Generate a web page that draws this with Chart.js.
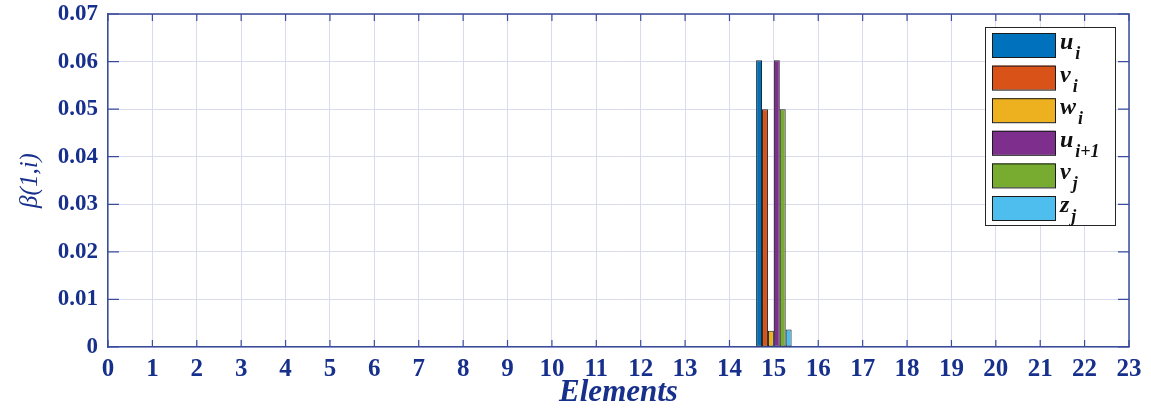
<!DOCTYPE html>
<html>
<head>
<meta charset="utf-8">
<script src="https://cdn.jsdelivr.net/npm/chart.js@4.4.0/dist/chart.umd.min.js"></script>
<style>
  html, body { margin: 0; padding: 0; background: #fff; }
  #wrap { width: 1151px; height: 412px; position: relative; }
</style>
</head>
<body>
<div id="wrap"><canvas id="chart"></canvas></div>
<script>
// --- Data (elements 1..22, only element 15 is non-zero) ---
const elements = [1, 2, 3, 4, 5, 6, 7, 8, 9, 10, 11, 12, 13, 14, 15, 16, 17, 18, 19, 20, 21, 22];
const uI   = [0, 0, 0, 0, 0, 0, 0, 0, 0, 0, 0, 0, 0, 0, 0.0603, 0, 0, 0, 0, 0, 0, 0];
const vI   = [0, 0, 0, 0, 0, 0, 0, 0, 0, 0, 0, 0, 0, 0, 0.0500, 0, 0, 0, 0, 0, 0, 0];
const wI   = [0, 0, 0, 0, 0, 0, 0, 0, 0, 0, 0, 0, 0, 0, 0.0034, 0, 0, 0, 0, 0, 0, 0];
const uI1  = [0, 0, 0, 0, 0, 0, 0, 0, 0, 0, 0, 0, 0, 0, 0.0603, 0, 0, 0, 0, 0, 0, 0];
const vJ   = [0, 0, 0, 0, 0, 0, 0, 0, 0, 0, 0, 0, 0, 0, 0.0500, 0, 0, 0, 0, 0, 0, 0];
const zJ   = [0, 0, 0, 0, 0, 0, 0, 0, 0, 0, 0, 0, 0, 0, 0.0037, 0, 0, 0, 0, 0, 0, 0];

const seriesNames = [['u', 'i'], ['v', 'i'], ['w', 'i'], ['u', 'i+1'], ['v', 'j'], ['z', 'j']];
const seriesData = [uI, vI, wI, uI1, vJ, zJ];
const seriesColors = ['#0072BD', '#D95319', '#EDB120', '#7E2F8E', '#77AC30', '#4DBEEE'];

const X_MIN = 0, X_MAX = 23;
const Y_MIN = 0, Y_MAX = 0.07;

// --- Style ---
const AXIS_BLUE = '#17308c';
const LINE_BLUE = '#3a4c9e';
const GRID_COLOR = '#dadcee';
const SERIF = '"Liberation Serif", "Times New Roman", serif';

// --- Plugin: box around plot + MATLAB-style inward ticks ---
const boxPlugin = {
  id: 'boxPlugin',
  afterDatasetsDraw(chart) {
    const { ctx, chartArea: a, scales } = chart;
    ctx.save();
    ctx.strokeStyle = LINE_BLUE;
    ctx.lineWidth = 1.5;
    ctx.beginPath();
    ctx.moveTo(a.left, a.top); ctx.lineTo(a.right, a.top); ctx.lineTo(a.right, a.bottom);
    ctx.stroke();
    ctx.lineWidth = 1.2;
    ctx.beginPath();
    for (let v = X_MIN; v <= X_MAX; v++) {
      const px = scales.x.getPixelForValue(v);
      ctx.moveTo(px, a.bottom); ctx.lineTo(px, a.bottom - 7);
      ctx.moveTo(px, a.top); ctx.lineTo(px, a.top + 7);
    }
    for (let k = 0; k <= 7; k++) {
      const py = scales.y.getPixelForValue(k * 0.01);
      ctx.moveTo(a.left, py); ctx.lineTo(a.left + 11, py);
      ctx.moveTo(a.right, py); ctx.lineTo(a.right - 11, py);
    }
    ctx.stroke();
    ctx.restore();
  }
};

// --- Plugin: legend with subscripts ---
const legendPlugin = {
  id: 'subLegend',
  afterDraw(chart) {
    const ctx = chart.ctx;
    const bx = 985, by = 27, bw = 130, bh = 198;
    ctx.save();
    ctx.fillStyle = '#fff';
    ctx.fillRect(bx, by, bw, bh);
    ctx.strokeStyle = '#262626';
    ctx.lineWidth = 1;
    ctx.strokeRect(bx + 0.5, by + 0.5, bw, bh);
    seriesNames.forEach((nm, k) => {
      const top = 33 + k * 32.6;
      ctx.fillStyle = seriesColors[k];
      ctx.fillRect(992, top, 63, 24);
      ctx.strokeStyle = '#1a1a1a';
      ctx.strokeRect(992.5, top + 0.5, 63, 24);
      ctx.fillStyle = '#111';
      ctx.textBaseline = 'alphabetic';
      ctx.textAlign = 'left';
      ctx.font = 'italic bold 24px ' + SERIF;
      ctx.fillText(nm[0], 1060, top + 16);
      const w = ctx.measureText(nm[0]).width;
      ctx.font = 'italic bold 18px ' + SERIF;
      ctx.fillText(nm[1], 1060 + w + 2, top + 26);
    });
    ctx.restore();
  }
};

const datasets = seriesData.map((vals, k) => ({
  label: seriesNames[k].join('_'),
  data: elements.map((e, i) => ({ x: e, y: vals[i] })),
  backgroundColor: seriesColors[k],
  borderColor: '#1f1f1f',
  borderWidth: 1,
  borderSkipped: false,
  barPercentage: 1.0,
  categoryPercentage: 0.8
}));

new Chart(document.getElementById('chart'), {
  type: 'bar',
  data: { datasets },
  options: {
    responsive: true,
    maintainAspectRatio: false,
    animation: false,
    layout: { padding: { top: 14, right: 22, left: 0, bottom: 0 } },
    plugins: { legend: { display: false }, tooltip: { enabled: false } },
    scales: {
      x: {
        type: 'linear',
        min: X_MIN, max: X_MAX,
        offset: false,
        ticks: { stepSize: 1, color: AXIS_BLUE, padding: 8, font: { family: SERIF, size: 25, weight: 'bold' } },
        grid: { color: GRID_COLOR, drawTicks: false, offset: false },
        border: { color: LINE_BLUE, width: 1.5 },
        title: { display: true, text: 'Elements', color: AXIS_BLUE, padding: { top: 0, bottom: 0 },
                 font: { family: SERIF, size: 31, weight: 'bold', style: 'italic' } },
        afterFit(scale) { scale.height = 65; scale.paddingLeft = 0; scale.paddingRight = 0; }
      },
      y: {
        min: Y_MIN, max: Y_MAX,
        ticks: {
          stepSize: 0.01, color: AXIS_BLUE, padding: 10,
          font: { family: SERIF, size: 23, weight: 'bold' },
          callback: v => (v === 0 ? '0' : v.toFixed(2))
        },
        grid: { color: GRID_COLOR, drawTicks: false },
        border: { color: LINE_BLUE, width: 1.5 },
        title: { display: true, text: 'β(1,i)', color: AXIS_BLUE, padding: { top: 15, bottom: 0 },
                 font: { family: SERIF, size: 25, style: 'italic' } },
        afterFit(scale) { scale.width = 108; scale.paddingTop = 0; scale.paddingBottom = 0; }
      }
    }
  },
  plugins: [boxPlugin, legendPlugin]
});
</script>
</body>
</html>
